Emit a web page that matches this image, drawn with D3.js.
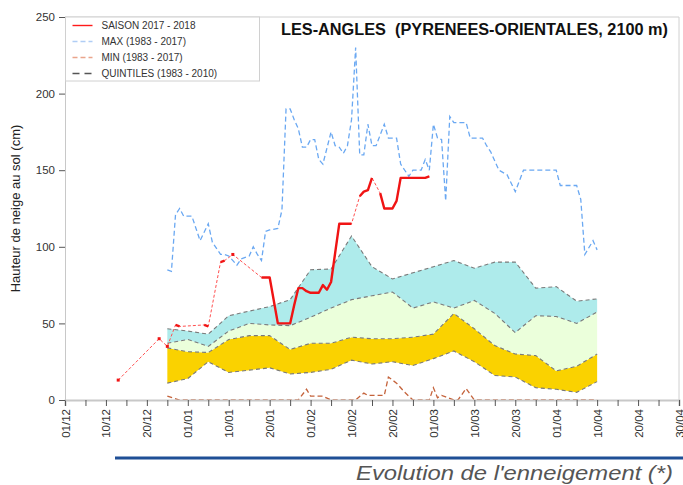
<!DOCTYPE html>
<html>
<head>
<meta charset="utf-8">
<script src="https://cdn.jsdelivr.net/npm/d3@7"></script>
<style>
  body { margin: 0; background: #fff; }
  svg { display: block; font-family: "Liberation Sans", Arial, sans-serif; }
</style>
</head>
<body>
<div id="chart"></div>
<script>
// tick labels, one every 10 units on a 0..150 day axis starting 01/12
const tickLabels = ['01/12', '10/12', '20/12', '01/01', '10/01', '20/01', '01/02', '10/02',
  '20/02', '01/03', '10/03', '20/03', '01/04', '10/04', '20/04', '30/04'];

// quintiles (1983 - 2010), every 5 days from day 25 to day 130
const quintileDays = [25, 30, 35, 40, 45, 50, 55, 60, 65, 70, 75, 80, 85, 90, 95, 100, 105, 110, 115, 120, 125, 130];
const q1 = [11, 14, 25, 18, 19.5, 21, 17, 18, 20, 26, 23.5, 25, 22.5, 27, 32, 25, 16, 15, 8, 7, 5, 12];
const q2 = [34, 31.5, 31, 39.5, 42, 42, 33, 37, 37, 41, 40, 40, 41, 43, 56.5, 46.5, 35.5, 30, 29, 19, 22, 30];
const q3 = [37, 39.5, 35, 45, 50, 49, 48.5, 54, 60, 65.5, 68, 70.5, 60, 64, 60, 65, 56.5, 44, 55, 54.5, 50, 57.5];
const q4 = [46.5, 45, 43, 55, 58, 61, 65.5, 85, 85.5, 107, 87, 79, 83, 87, 91, 86, 90, 90, 73, 74, 64.5, 66];

// MAX (1983 - 2017)
const maxDays = [25, 26, 27, 28, 29, 31, 33, 35, 36, 38, 39, 40, 42, 43, 45, 46, 47, 48, 49, 50, 52, 53,
  54, 55, 56, 57, 58, 59, 60, 61, 62, 63, 65, 66, 67, 68, 69, 70, 71, 72, 73, 74, 75, 76, 78, 79, 81,
  82, 84, 85, 86, 87, 88, 89, 90, 91, 92, 93, 94, 95, 98, 99, 102, 103, 104, 106, 108, 110, 112, 114,
  117, 120, 121, 125, 126, 127, 129, 130];
const maxValues = [85, 84, 121, 125, 120, 120, 104, 115, 103, 95, 95, 94, 88, 92, 94, 100, 95, 91, 110, 111, 112, 124,
  190, 190, 183, 177, 165, 165, 170, 170, 157, 154, 175, 166, 165, 161, 166, 183, 230, 160, 160, 180, 166, 166, 180, 171, 171,
  154, 146, 150, 150, 150, 157, 150, 180, 171, 170, 130, 185, 181, 181, 171, 171, 166, 162, 150, 147, 136, 150, 150,
  150, 150, 140, 140, 131, 95, 104, 98];

// MIN (1983 - 2017)
const minDays = [25, 28, 57, 59, 60, 63, 65, 71, 73, 74, 78, 79, 81, 82, 83, 85, 89, 90, 91, 92, 93, 95, 96, 98, 100, 130];
const minValues = [2.5, 0, 0, 7, 2.5, 2.5, 0, 0, 4.5, 3, 3, 15, 11, 8, 5, 0, 0, 8, 1.5, 3, 2, 0, 0, 7.5, 0, 0];

// SAISON 2017 - 2018 (measurement days)
const seasonDays = [13, 23, 25, 27, 28, 34, 35, 38, 39, 41, 48, 49, 50, 51, 52, 53, 54, 55, 56, 57, 58, 59,
  60, 61, 62, 63, 64, 65, 66, 67, 68, 69, 70, 72, 73, 74, 75, 77, 78, 79, 80, 81, 82, 83, 84, 85, 86, 87, 88, 89];
const seasonValues = [13, 40, 35, 49, 48, 49, 48, 90, 91, 95, 80, 80, 80, 65, 50, 50, 50, 50, 62, 73, 73, 71,
  70, 70, 70, 75, 72, 77, 96, 115, 115, 115, 115, 133, 136, 137, 145, 135, 125, 125, 125, 130, 145, 145, 145, 145, 145, 145, 145, 146];

const legendItems = ['SAISON 2017 - 2018', 'MAX (1983 - 2017)', 'MIN (1983 - 2017)', 'QUINTILES (1983 - 2010)'];

const W = 683;
const H = 485;
const margin = { top: 17, right: 4, bottom: 85, left: 65 };

const svg = d3.select('#chart').append('svg')
  .attr('width', W)
  .attr('height', H);

const x = d3.scaleLinear().domain([0, 150]).range([margin.left, W - margin.right]);
const y = d3.scaleLinear().domain([0, 250]).range([H - margin.bottom, margin.top]);

// frame (top and right)
svg.append('path')
  .attr('d', `M${x(0)},${y(250)}H${x(150)}V${y(0)}`)
  .attr('fill', 'none')
  .attr('stroke', '#d0d0d0');

// quintile bands
const qData = quintileDays.map((d, i) => ({ d, q1: q1[i], q2: q2[i], q3: q3[i], q4: q4[i] }));
const band = (lo, hi) => d3.area().x(p => x(p.d)).y0(p => y(p[lo])).y1(p => y(p[hi]));
svg.append('path').attr('d', band('q1', 'q2')(qData)).attr('fill', '#fad200');
svg.append('path').attr('d', band('q2', 'q3')(qData)).attr('fill', '#ebffdb');
svg.append('path').attr('d', band('q3', 'q4')(qData)).attr('fill', '#aeebeb');
['q1', 'q2', 'q3', 'q4'].forEach((k) => {
  svg.append('path')
    .attr('d', d3.line().x(p => x(p.d)).y(p => y(p[k]))(qData))
    .attr('fill', 'none')
    .attr('stroke', '#7a7a7a')
    .attr('stroke-width', 1.1)
    .attr('stroke-dasharray', '4,3');
});

// max / min
const pts = (days, vals) => days.map((d, i) => [x(d), y(vals[i])]);
svg.append('path')
  .attr('d', d3.line()(pts(maxDays, maxValues)))
  .attr('fill', 'none')
  .attr('stroke', '#6aa8f2')
  .attr('stroke-width', 1.3)
  .attr('stroke-dasharray', '5,3');
svg.append('path')
  .attr('d', d3.line()(pts(minDays, minValues)))
  .attr('fill', 'none')
  .attr('stroke', '#c4623a')
  .attr('stroke-width', 1.3)
  .attr('stroke-dasharray', '5,3');

// season: thin dashed through everything, thick where days follow each other
const sPts = pts(seasonDays, seasonValues);
svg.append('path')
  .attr('d', d3.line()(sPts))
  .attr('fill', 'none')
  .attr('stroke', '#ff5050')
  .attr('stroke-width', 1)
  .attr('stroke-dasharray', '3,2');
const runs = [];
let run = [sPts[0]];
for (let i = 1; i < seasonDays.length; i += 1) {
  if (seasonDays[i] - seasonDays[i - 1] === 1) {
    run.push(sPts[i]);
  } else {
    runs.push(run);
    run = [sPts[i]];
  }
}
runs.push(run);
runs.forEach((r) => {
  if (r.length > 1) {
    svg.append('path')
      .attr('d', d3.line()(r))
      .attr('fill', 'none')
      .attr('stroke', '#f01414')
      .attr('stroke-width', 2.4)
      .attr('stroke-linejoin', 'round');
  } else {
    svg.append('rect')
      .attr('x', r[0][0] - 1.5)
      .attr('y', r[0][1] - 1.5)
      .attr('width', 3)
      .attr('height', 3)
      .attr('fill', '#f01414');
  }
});

// axes
const xAxis = svg.append('g')
  .attr('transform', `translate(0,${y(0)})`)
  .call(d3.axisBottom(x)
    .tickValues(d3.range(0, 151, 5))
    .tickSizeOuter(0)
    .tickSize(6)
    .tickFormat(d => (d % 10 === 0 ? tickLabels[d / 10] : '')));
xAxis.select('.domain').attr('stroke', '#c8c8c8').attr('stroke-width', 2);
xAxis.selectAll('.tick line').attr('stroke', '#555');
xAxis.selectAll('text')
  .attr('transform', 'rotate(-90)')
  .attr('x', -9)
  .attr('y', 0)
  .attr('dy', '0.35em')
  .attr('text-anchor', 'end')
  .attr('fill', '#333')
  .style('font-size', '11.5px');

const yAxis = svg.append('g')
  .attr('transform', `translate(${x(0)},0)`)
  .call(d3.axisLeft(y).tickValues(d3.range(0, 251, 50)).tickSize(6).tickSizeOuter(0));
yAxis.select('.domain').attr('stroke', '#c8c8c8');
yAxis.selectAll('.tick line').attr('stroke', '#555');
yAxis.selectAll('text')
  .attr('x', -10)
  .attr('fill', '#333')
  .style('font-size', '11.5px');

svg.append('text')
  .attr('transform', `translate(20,${(y(0) + y(250)) / 2}) rotate(-90)`)
  .attr('text-anchor', 'middle')
  .attr('fill', '#222')
  .style('font-size', '13px')
  .text('Hauteur de neige au sol (cm)');

// legend
const lg = svg.append('g').attr('transform', `translate(${x(0) + 0.5},${y(250)})`);
lg.append('rect')
  .attr('width', 194)
  .attr('height', 64)
  .attr('fill', '#fff')
  .attr('stroke', '#d0d0d0');
const legendStroke = [
  { c: '#ff1a1a', dash: null },
  { c: '#b0cdf5', dash: '5,3' },
  { c: '#eaa58c', dash: '5,3' },
  { c: '#555', dash: '7,5' },
];
legendItems.forEach((t, i) => {
  const row = lg.append('g').attr('transform', `translate(0,${8.5 + i * 16})`);
  row.append('line')
    .attr('x1', 7).attr('x2', 27)
    .attr('stroke', legendStroke[i].c)
    .attr('stroke-width', 1.4)
    .attr('stroke-dasharray', legendStroke[i].dash);
  row.append('text')
    .attr('x', 36)
    .attr('dy', '0.35em')
    .attr('fill', '#333')
    .style('font-size', '10px')
    .text(t);
});

// title
svg.append('text')
  .attr('x', 281)
  .attr('y', 35)
  .attr('fill', '#111')
  .attr('textLength', 387)
  .attr('lengthAdjust', 'spacingAndGlyphs')
  .style('font-size', '16px')
  .style('font-weight', 'bold')
  .style('white-space', 'pre')
  .text('LES-ANGLES  (PYRENEES-ORIENTALES, 2100 m)');

// footer
svg.append('line')
  .attr('x1', 115).attr('x2', W)
  .attr('y1', 458).attr('y2', 458)
  .attr('stroke', '#1f4f96')
  .attr('stroke-width', 3);
svg.append('text')
  .attr('x', 356)
  .attr('y', 479.5)
  .attr('fill', '#555')
  .attr('textLength', 317)
  .attr('lengthAdjust', 'spacingAndGlyphs')
  .style('font-size', '21px')
  .style('font-style', 'italic')
  .text("Evolution de l'enneigement (*)");
</script>
</body>
</html>
